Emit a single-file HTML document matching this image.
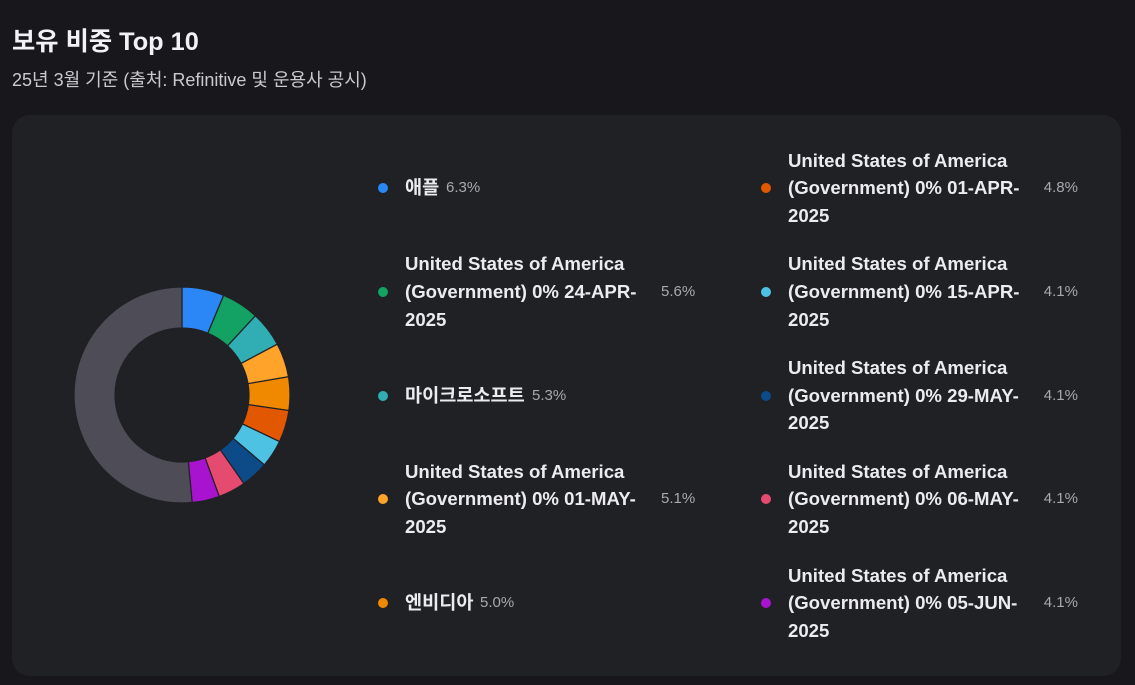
<!DOCTYPE html>
<html><head><meta charset="utf-8"><style>
body{margin:0;width:1135px;height:685px;background:#18181c;font-family:"Liberation Sans","Noto Sans CJK KR",sans-serif;color:#ececf0;overflow:hidden;position:relative}
h1{position:absolute;left:12px;top:22px;margin:0;font-size:25.3px;font-weight:bold;color:#f2f2f4}
.sub{position:absolute;left:12px;top:66px;font-size:18px;color:#c9c9cf}
.card{position:absolute;left:12px;top:115px;width:1109px;height:561px;background:#202125;border-radius:18px}
.item{position:absolute;display:flex;align-items:center;font-size:18.6px;font-weight:bold;line-height:27.6px;color:#ececf0}
.dot{position:absolute;width:10px;height:10px;border-radius:50%}
.val{position:absolute;font-size:15px;font-weight:normal;color:#a8a8b0}
</style></head><body>
<h1>보유 비중 Top 10</h1>
<div class="sub">25년 3월 기준 (출처: Refinitive 및 운용사 공시)</div>
<div class="card"></div>
<svg id="donut" style="position:absolute;left:0;top:0" width="1135" height="685"></svg>
<div id="legend"></div>
<script>
const names=["애플","United States of America (Government) 0% 24-APR-2025","마이크로소프트","United States of America (Government) 0% 01-MAY-2025","엔비디아","United States of America (Government) 0% 01-APR-2025","United States of America (Government) 0% 15-APR-2025","United States of America (Government) 0% 29-MAY-2025","United States of America (Government) 0% 06-MAY-2025","United States of America (Government) 0% 05-JUN-2025"];
const lines=[["애플"],["United States of America","(Government) 0% 24-APR-","2025"],["마이크로소프트"],["United States of America","(Government) 0% 01-MAY-","2025"],["엔비디아"],["United States of America","(Government) 0% 01-APR-","2025"],["United States of America","(Government) 0% 15-APR-","2025"],["United States of America","(Government) 0% 29-MAY-","2025"],["United States of America","(Government) 0% 06-MAY-","2025"],["United States of America","(Government) 0% 05-JUN-","2025"]];
const values=[6.3,5.6,5.3,5.1,5.0,4.8,4.1,4.1,4.1,4.1];
const colors=["#2b86f6","#13a164","#30aeb4","#ffa32a","#f08900","#e25800","#4ec2e2","#0c4a88","#e44b6e","#a813cf"];
const restColor="#4d4c57";
const cx=182,cy=395,R=108,r=67;
const svg=document.getElementById('donut');
const NS="http://www.w3.org/2000/svg";
function pt(a,rad){return [cx+rad*Math.sin(a),cy-rad*Math.cos(a)];}
function arc(a0,a1,fill,name){
  const p=document.createElementNS(NS,'path');
  const [x0,y0]=pt(a0,R),[x1,y1]=pt(a1,R),[x2,y2]=pt(a1,r),[x3,y3]=pt(a0,r);
  const lg=(a1-a0)>Math.PI?1:0;
  p.setAttribute('d',`M${x0},${y0}A${R},${R} 0 ${lg} 1 ${x1},${y1}L${x2},${y2}A${r},${r} 0 ${lg} 0 ${x3},${y3}Z`);
  p.setAttribute('fill',fill);p.setAttribute('stroke','#202125');p.setAttribute('stroke-width','1.2');
  
  
  svg.appendChild(p);
}
let acc=0;const total=100;
values.forEach((v,i)=>{const a0=acc/total*2*Math.PI;acc+=v;arc(a0,acc/total*2*Math.PI,colors[i],'slice-'+(i+1));});
arc(acc/total*2*Math.PI,2*Math.PI-0.0001,restColor,'slice-others');
const leg=document.getElementById('legend');
values.forEach((v,i)=>{
  const col=i<5?0:1,row=i%5;
  const yc=188+row*103.75;
  const dx=col?766:383,tx=col?788:405;
  const d=document.createElement('div');d.className='dot';
  
  
  d.style.left=(dx-5)+'px';d.style.top=(yc-5)+'px';d.style.background=colors[i];
  leg.appendChild(d);
  const t=document.createElement('div');t.className='item';
  
  
  t.innerHTML=lines[i].join('<br>');
  t.style.left=tx+'px';t.style.top=(yc-lines[i].length*27.6/2)+'px';
  leg.appendChild(t);
  const s=document.createElement('div');s.className='val';
  
  
  s.textContent=v.toFixed(1)+'%';
  s.style.top=(yc-9)+'px';
  if(lines[i].length===1){s.style.left=(tx+t.offsetWidth+7)+'px';}
  else if(col===0){s.style.left='661px';}
  else{s.style.right=(1135-1078)+'px';}
  leg.appendChild(s);
});
</script>
</body></html>
